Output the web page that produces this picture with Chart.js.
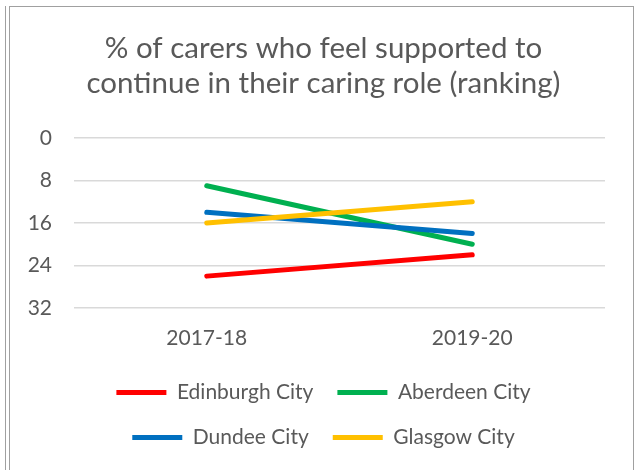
<!DOCTYPE html>
<html>
<head>
<meta charset="utf-8">
<script src="https://cdn.jsdelivr.net/npm/chart.js@4/dist/chart.umd.min.js"></script>
<style>
  html, body { margin: 0; padding: 0; background: #fff; }
  body { width: 636px; height: 470px; position: relative; overflow: hidden; }
  .edge { position: absolute; left: 5px; top: 6px; width: 0; height: 470px; border-left: 1px solid #a0a0a0; }
  .frame { position: absolute; left: 9px; top: 6px; width: 623px; height: 470px;
           border: 1px solid #a0a0a0; border-bottom: none; }
  .wrap { position: absolute; left: 10px; top: 7px; width: 623px; height: 463px; }
</style>
</head>
<body>
<div class="edge"></div>
<div class="frame"></div>
<div class="wrap"><canvas id="rankChart"></canvas></div>
<script>
// data
const years = ["2017-18", "2019-20"];
const edinburgh = [26, 22];
const aberdeen = [9, 20];
const dundee = [14, 18];
const glasgow = [16, 12];
const yTicks = [0, 8, 16, 24, 32];

const textGrey = "#595959";
const fontFamily = "Lato, 'Open Sans', sans-serif";

function series(label, data, color, order) {
  return {
    label: label,
    data: data,
    borderColor: color,
    backgroundColor: color,
    borderWidth: 5,
    borderCapStyle: "round",
    pointRadius: 0,
    pointHoverRadius: 0,
    tension: 0,
    fill: false,
    order: order,
  };
}

const ctx = document.getElementById("rankChart").getContext("2d");
const rankChart = new Chart(ctx, {
  type: "line",
  data: {
    labels: years,
    datasets: [
      series("Edinburgh City", edinburgh, "#FF0000", 4),
      series("Aberdeen City", aberdeen, "#00B050", 3),
      series("Dundee City", dundee, "#0070C0", 2),
      series("Glasgow City", glasgow, "#FFC000", 1),
    ],
  },
  options: {
    responsive: true,
    maintainAspectRatio: false,
    animation: false,
    layout: {
      padding: { left: 10, right: 6, top: 0, bottom: 12 },
    },
    plugins: {
      title: {
        display: true,
        text: ["% of carers who feel supported to", "continue in their caring role (ranking)"],
        color: textGrey,
        font: { family: fontFamily, size: 29.5, weight: "normal", lineHeight: 1.186 },
        padding: { top: 24, bottom: 37 },
      },
      legend: {
        position: "bottom",
        labels: {
          color: textGrey,
          font: { family: fontFamily, size: 21 },
          usePointStyle: true,
          pointStyle: "line",
          pointStyleWidth: 50,
          padding: 24,
          sort: (a, b) => a.datasetIndex - b.datasetIndex,
        },
      },
      tooltip: { enabled: false },
    },
    scales: {
      x: {
        offset: true,
        grid: { display: false, drawTicks: false },
        border: { display: false },
        ticks: {
          color: textGrey,
          font: { family: fontFamily, size: 21 },
          padding: 18,
          maxRotation: 0,
        },
        afterFit: (scale) => { scale.height = 50; },
      },
      y: {
        reverse: true,
        min: 0,
        max: 32,
        afterBuildTicks: (scale) => { scale.ticks = yTicks.map((v) => ({ value: v })); },
        grid: { color: "#d9d9d9", lineWidth: 1.5, drawTicks: false },
        border: { display: false },
        ticks: {
          color: textGrey,
          font: { family: fontFamily, size: 21 },
          padding: 22,
        },
        afterFit: (scale) => { scale.width = 54; },
      },
      // empty right-hand axis, only keeps the plot area in from the right edge
      yRight: {
        position: "right",
        min: 0,
        max: 32,
        grid: { display: false, drawTicks: false },
        border: { display: false },
        ticks: { display: false },
        afterFit: (scale) => { scale.width = 22; },
      },
    },
  },
});
</script>
</body>
</html>
